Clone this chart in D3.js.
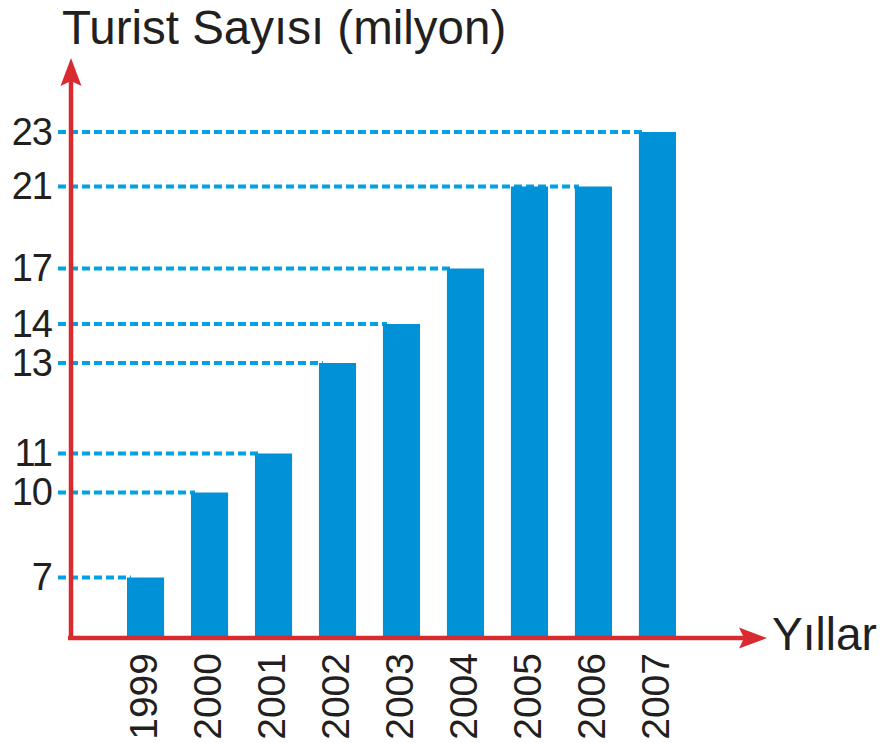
<!DOCTYPE html>
<html>
<head>
<meta charset="utf-8">
<script src="https://cdn.jsdelivr.net/npm/d3@7"></script>
<style>
  body { margin: 0; background: #fff; }
  svg { font-family: "Liberation Sans", Arial, sans-serif; }
</style>
</head>
<body>
<svg id="chart" width="886" height="749"></svg>
<script>
// data
const years = ['1999', '2000', '2001', '2002', '2003', '2004', '2005', '2006', '2007'];
const tourists = [7, 10, 11, 13, 14, 17, 21, 21, 23];
const yTicks = [7, 10, 11, 13, 14, 17, 21, 23];
const yTitle = 'Turist Sayısı (milyon)';
const xTitle = 'Yıllar';

const red = '#d92b2f';
const barColor = '#0091d6';
const dashColor = '#00a2e3';
const textColor = '#231f20';

const svg = d3.select('#chart');
const originX = 71;
const baseY = 638;

// the source drawing is not to scale, so the y scale is piecewise
const y = d3.scaleLinear()
  .domain([0, 7, 10, 11, 13, 14, 17, 21, 23])
  .range([baseY, 577.5, 492.5, 453.5, 363, 324, 268.5, 186.5, 132]);

const x = d3.scaleBand()
  .domain(years)
  .range([originX, 732])
  .paddingInner(0.42)
  .paddingOuter(0.875);

const rows = years.map(function(year, i) {
  return { year: year, value: tourists[i] };
});

// arrow head
svg.append('defs').append('marker')
  .attr('id', 'arrow')
  .attr('viewBox', '0 -11 28 22')
  .attr('refX', 8)
  .attr('refY', 0)
  .attr('markerWidth', 28)
  .attr('markerHeight', 22)
  .attr('markerUnits', 'userSpaceOnUse')
  .attr('orient', 'auto')
  .append('path')
  .attr('d', 'M0,-10.5 L28,0 L0,10.5 L5,0 Z')
  .attr('fill', red);

// dashed guide lines, each one runs to the last bar with that value
svg.append('g')
  .selectAll('line')
  .data(yTicks)
  .enter()
  .append('line')
  .attr('x1', 58)
  .attr('x2', function(v) {
    const last = rows.filter(function(r) { return r.value === v; }).pop();
    return last ? x(last.year) + 4 : originX;
  })
  .attr('y1', function(v) { return y(v); })
  .attr('y2', function(v) { return y(v); })
  .attr('stroke', dashColor)
  .attr('stroke-width', 4)
  .attr('stroke-dasharray', '8,4');

// bars
svg.append('g')
  .selectAll('rect')
  .data(rows)
  .enter()
  .append('rect')
  .attr('x', function(d) { return x(d.year); })
  .attr('y', function(d) { return y(d.value); })
  .attr('width', x.bandwidth())
  .attr('height', function(d) { return baseY - y(d.value); })
  .attr('fill', barColor);

// y tick labels
const yAxis = svg.append('g')
  .attr('transform', 'translate(' + originX + ',0)')
  .call(d3.axisLeft(y).tickValues(yTicks).tickSize(0).tickPadding(19));
yAxis.select('.domain').remove();
yAxis.selectAll('text')
  .attr('font-size', 38)
  .attr('font-family', '"Liberation Sans", Arial, sans-serif')
  .attr('letter-spacing', -1)
  .attr('fill', textColor);

// x tick labels, rotated
const xAxis = svg.append('g')
  .attr('transform', 'translate(0,' + baseY + ')')
  .call(d3.axisBottom(x).tickSize(0));
xAxis.select('.domain').remove();
xAxis.selectAll('text')
  .attr('transform', 'rotate(-90)')
  .attr('x', -15)
  .attr('y', 0)
  .attr('dy', '0.3em')
  .attr('text-anchor', 'end')
  .attr('font-size', 39)
  .attr('font-family', '"Liberation Sans", Arial, sans-serif')
  .attr('fill', textColor);

// axis lines with arrows
svg.append('line')
  .attr('x1', originX).attr('y1', baseY + 2)
  .attr('x2', originX).attr('y2', 78)
  .attr('stroke', red)
  .attr('stroke-width', 4.5)
  .attr('marker-end', 'url(#arrow)');
svg.append('line')
  .attr('x1', originX - 3).attr('y1', baseY)
  .attr('x2', 747).attr('y2', baseY)
  .attr('stroke', red)
  .attr('stroke-width', 4.5)
  .attr('marker-end', 'url(#arrow)');

// axis titles
svg.append('text')
  .attr('x', 62)
  .attr('y', 44)
  .attr('font-size', 47.5)
  .attr('fill', textColor)
  .text(yTitle);
svg.append('text')
  .attr('x', 772)
  .attr('y', 650)
  .attr('font-size', 46)
  .attr('fill', textColor)
  .text(xTitle);
</script>
</body>
</html>
